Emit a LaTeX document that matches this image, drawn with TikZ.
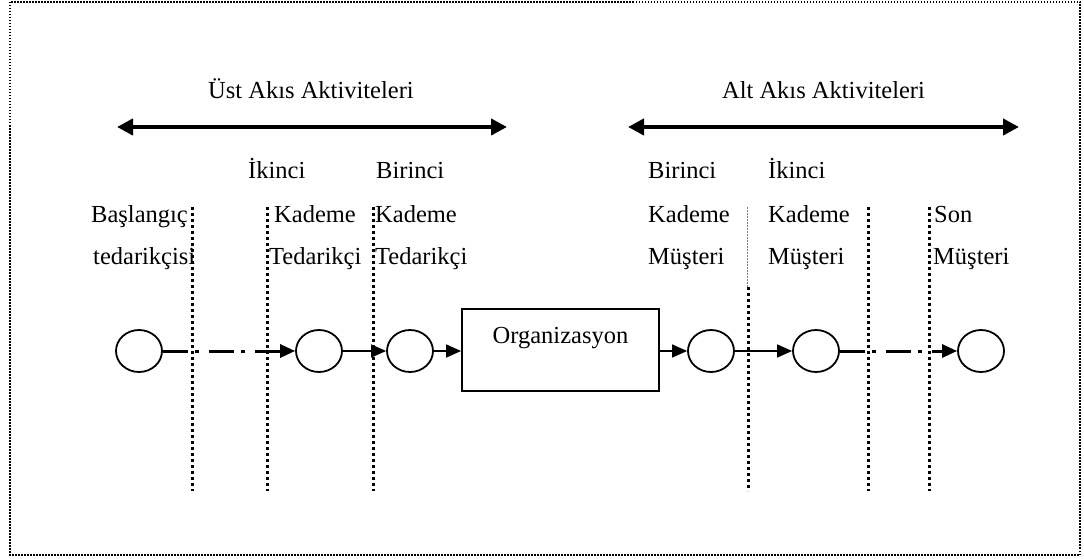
\documentclass[tikz,border=0pt]{standalone}
\usepackage{fontspec}
\setmainfont{Liberation Serif}
\usetikzlibrary{arrows.meta,shapes.geometric}

\begin{document}
\begin{tikzpicture}[x=1pt,y=-1pt,
  txt/.style={inner sep=0pt, font=\fontsize{24.5}{28}\selectfont},
  lbl/.style={txt, anchor=base west},
  ttl/.style={txt, anchor=base},
  firm/.style={ellipse, draw, line width=1.8pt, minimum width=46pt, minimum height=42pt, inner sep=0pt},
  orgbox/.style={draw, line width=1.8pt, minimum width=197pt, minimum height=82pt, inner sep=0pt},
  flow/.style={line width=1.4pt, -{Triangle[length=15pt,width=13pt]}},
  farflow/.style={line width=3pt, dash pattern=on 25pt off 7pt on 4pt off 10pt, -{Triangle[length=15pt,width=13pt]}},
  span/.style={line width=4.5pt, {Triangle[length=16pt,width=16pt]}-{Triangle[length=16pt,width=16pt]}},
  tier/.style={line width=3pt, dash pattern=on 3pt off 3pt},
  tierfaint/.style={gray, double, double distance=1pt, line width=0.6pt, dash pattern=on 2pt off 1pt},
  frame/.style={line width=1.5pt, dash pattern=on 1.5pt off 1.5pt},
]
\useasboundingbox (0,0) rectangle (1084,559);

% outer frame
\draw[frame] (10,2) rectangle (1080,555);

% upstream / downstream spans
\node[ttl] (uptitle) at (311,99) {Üst Akıs Aktiviteleri};
\node[ttl] (downtitle) at (823.5,99) {Alt Akıs Aktiviteleri};
\coordinate (upL) at (117,127);
\coordinate (upR) at (507,127);
\coordinate (dnL) at (628,127);
\coordinate (dnR) at (1019,127);
\draw[span] (upL) -- (upR);
\draw[span] (dnL) -- (dnR);

% tier separators
\foreach \n/\x in {a/192, b/267, c/373, e/868, f/929} {
  \coordinate (\n top) at (\x,207);
  \coordinate (\n bot) at (\x,491);
  \draw[tier] (\n top) -- (\n bot);
}
\coordinate (dtop) at (748,207);
\coordinate (dmid) at (748,287);
\coordinate (dbot) at (748,491);
\draw[tierfaint] (dtop) -- (dmid);
\draw[tier] (dmid) -- (dbot);

% tier labels
\node[lbl] (l1a) at (91,222) {Başlangıç};
\node[lbl] (l1b) at (93,264) {tedarikçisi};
\node[lbl] (l2a) at (248,178) {İkinci};
\node[lbl] (l2b) at (274,222) {Kademe};
\node[lbl] (l2c) at (269,264) {Tedarikçi};
\node[lbl] (l3a) at (376,178) {Birinci};
\node[lbl] (l3b) at (375,222) {Kademe};
\node[lbl] (l3c) at (375,264) {Tedarikçi};
\node[lbl] (r1a) at (648,178) {Birinci};
\node[lbl] (r1b) at (648,222) {Kademe};
\node[lbl] (r1c) at (648,264) {Müşteri};
\node[lbl] (r2a) at (768,178) {İkinci};
\node[lbl] (r2b) at (768,222) {Kademe};
\node[lbl] (r2c) at (768,264) {Müşteri};
\node[lbl] (r3a) at (934,222) {Son};
\node[lbl] (r3b) at (933,264) {Müşteri};

% chain members
\node[firm] (s0) at (139,351) {};
\node[firm] (s2) at (319,351) {};
\node[firm] (s1) at (410,351) {};
\node[orgbox] (org) at (560.5,350) {};
\node[ttl] (orgtext) at (560.5,343) {Organizasyon};
\node[firm] (c1) at (711,351) {};
\node[firm] (c2) at (816,351) {};
\node[firm] (c3) at (981,351) {};

% material flow
\draw[farflow] (s0) -- (s2);
\draw[flow] (s2) -- (s1);
\draw[flow] (s1) -- (org.west |- s1);
\draw[flow] (org.east |- c1) -- (c1);
\draw[flow] (c1) -- (c2);
\draw[farflow] (c2) -- (c3);
\end{tikzpicture}
\end{document}
